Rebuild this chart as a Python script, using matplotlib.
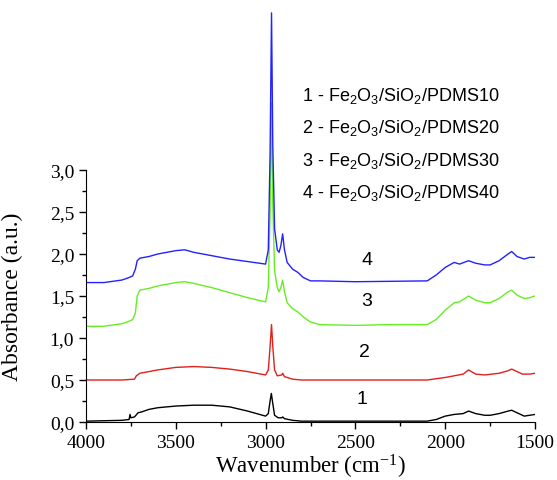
import matplotlib.pyplot as plt
from matplotlib.ticker import FuncFormatter, FixedLocator, MultipleLocator

# spectra (wavenumber, absorbance)
wn_1 = [4000, 3800, 3760, 3755, 3750, 3730, 3710, 3690, 3650, 3600, 3500, 3400, 3300, 3200, 3100, 3000,
        2985, 2975, 2968, 2960, 2950, 2930, 2910, 2905, 2895, 2850, 2800, 2500, 2100, 2050, 2000, 1950,
        1900, 1870, 1830, 1780, 1750, 1700, 1650, 1630, 1600, 1560, 1530, 1500]
ab_1 = [0.01, 0.02, 0.03, 0.09, 0.05, 0.06, 0.11, 0.12, 0.15, 0.17, 0.19, 0.20, 0.20, 0.18, 0.13, 0.07,
        0.10, 0.25, 0.34, 0.22, 0.08, 0.05, 0.05, 0.06, 0.04, 0.02, 0.01, 0.01, 0.01, 0.03, 0.07, 0.09,
        0.10, 0.13, 0.10, 0.08, 0.08, 0.10, 0.13, 0.14, 0.11, 0.07, 0.08, 0.09]

wn_2 = [4000, 3800, 3730, 3720, 3700, 3650, 3600, 3500, 3400, 3300, 3200, 3100, 3000, 2985, 2975, 2967,
        2960, 2950, 2935, 2910, 2905, 2895, 2850, 2800, 2100, 2000, 1950, 1900, 1870, 1830, 1780, 1700,
        1650, 1630, 1600, 1570, 1530, 1500]
ab_2 = [0.50, 0.50, 0.51, 0.55, 0.58, 0.60, 0.62, 0.65, 0.66, 0.65, 0.63, 0.60, 0.56, 0.62, 0.90, 1.16,
        0.90, 0.62, 0.55, 0.56, 0.58, 0.54, 0.51, 0.50, 0.50, 0.53, 0.55, 0.57, 0.62, 0.57, 0.56, 0.58,
        0.61, 0.63, 0.60, 0.57, 0.57, 0.58]

wn_3 = [4000, 3900, 3800, 3760, 3740, 3725, 3715, 3700, 3650, 3600, 3500, 3450, 3400, 3300, 3200, 3100,
        3000, 2985, 2975, 2967, 2960, 2950, 2935, 2925, 2915, 2905, 2895, 2880, 2850, 2820, 2790, 2750,
        2700, 2500, 2300, 2100, 2050, 2000, 1950, 1920, 1870, 1830, 1780, 1750, 1700, 1650, 1630, 1600,
        1560, 1530, 1500]
ab_3 = [1.14, 1.14, 1.17, 1.20, 1.22, 1.30, 1.50, 1.57, 1.59, 1.62, 1.66, 1.67, 1.65, 1.60, 1.54, 1.48,
        1.43, 1.60, 2.50, 3.80, 2.60, 1.80, 1.60, 1.55, 1.60, 1.69, 1.55, 1.42, 1.35, 1.31, 1.25, 1.19,
        1.16, 1.15, 1.16, 1.16, 1.22, 1.33, 1.42, 1.43, 1.50, 1.45, 1.42, 1.42, 1.47, 1.55, 1.57, 1.51,
        1.47, 1.48, 1.50]

wn_4 = [4000, 3900, 3800, 3760, 3740, 3725, 3715, 3700, 3650, 3600, 3500, 3450, 3400, 3300, 3200, 3100,
        3000, 2985, 2975, 2967, 2960, 2950, 2935, 2925, 2915, 2905, 2895, 2880, 2850, 2820, 2790, 2750,
        2700, 2500, 2100, 2050, 2000, 1950, 1920, 1870, 1830, 1780, 1750, 1700, 1650, 1630, 1600, 1560,
        1530, 1500]
ab_4 = [1.66, 1.66, 1.69, 1.72, 1.74, 1.82, 1.92, 1.95, 1.97, 2.00, 2.04, 2.05, 2.02, 1.98, 1.94, 1.91,
        1.88, 2.05, 3.20, 4.87, 3.30, 2.30, 2.05, 2.02, 2.10, 2.24, 2.05, 1.90, 1.82, 1.78, 1.72, 1.68,
        1.68, 1.67, 1.68, 1.75, 1.84, 1.90, 1.88, 1.92, 1.89, 1.87, 1.87, 1.92, 2.00, 2.03, 1.97, 1.94,
        1.96, 1.96]

curve_labels = ["1", "2", "3", "4"]
label_wn = [2465, 2447, 2437, 2437]
label_ab = [0.28, 0.84, 1.45, 1.93]

legend_lines = [
    r"1 - Fe$_2$O$_3$/SiO$_2$/PDMS10",
    r"2 - Fe$_2$O$_3$/SiO$_2$/PDMS20",
    r"3 - Fe$_2$O$_3$/SiO$_2$/PDMS30",
    r"4 - Fe$_2$O$_3$/SiO$_2$/PDMS40",
]

y_major = [0, 0.5, 1.0, 1.5, 2.0, 2.5, 3.0]
y_minor = [0.25, 0.75, 1.25, 1.75, 2.25, 2.75]

plt.rcParams["font.family"] = "Liberation Serif"
plt.rcParams["mathtext.fontset"] = "custom"
plt.rcParams["mathtext.rm"] = "Liberation Sans"
plt.rcParams["mathtext.it"] = "Liberation Sans"
plt.rcParams["mathtext.default"] = "rm"

fig = plt.figure(figsize=(5.57, 4.81), dpi=100)
ax = fig.add_axes([86 / 557, 1 - 423 / 481, 449 / 557, 420 / 481])

ax.plot(wn_1, ab_1, color="#000000", lw=1.0)
ax.plot(wn_2, ab_2, color="#e0201b", lw=1.0)
ax.plot(wn_3, ab_3, color="#66ee22", lw=1.0)
ax.plot(wn_4, ab_4, color="#2222ff", lw=1.0)

for lab, x, y in zip(curve_labels, label_wn, label_ab):
    ax.text(x, y, lab, family="Liberation Sans", fontsize=14, ha="center", va="center")

for i, txt in enumerate(legend_lines):
    fig.text(302 / 557, 1 - (96 + i * 32.5) / 481, txt, family="Liberation Sans", fontsize=13,
             ha="left", va="center")

ax.set_xlim(4000, 1500)
ax.set_ylim(0, 420 / 84)
ax.spines["top"].set_visible(False)
ax.spines["right"].set_visible(False)
ax.spines["left"].set_bounds(0, 3)
ax.yaxis.set_major_locator(FixedLocator(y_major))
ax.yaxis.set_minor_locator(FixedLocator(y_minor))
ax.xaxis.set_major_locator(MultipleLocator(500))
ax.xaxis.set_minor_locator(MultipleLocator(250))
ax.yaxis.set_major_formatter(FuncFormatter(lambda v, p: f"{v:.1f}".replace(".", ",")))
ax.tick_params(which="major", direction="out", length=5, width=1, labelsize=14)
ax.tick_params(which="minor", direction="out", length=3, width=1)
ax.set_xlabel("Wavenumber (cm$\\mathregular{^{-1}}$)", fontsize=16.5, family="Liberation Serif")
ax.set_ylabel("Absorbance (a.u.)", fontsize=17, labelpad=4)
ax.yaxis.set_label_coords(-0.14, 0.3)
ax.xaxis.set_label_coords(0.5, -0.072)

fig.savefig("out.png", dpi=100)
